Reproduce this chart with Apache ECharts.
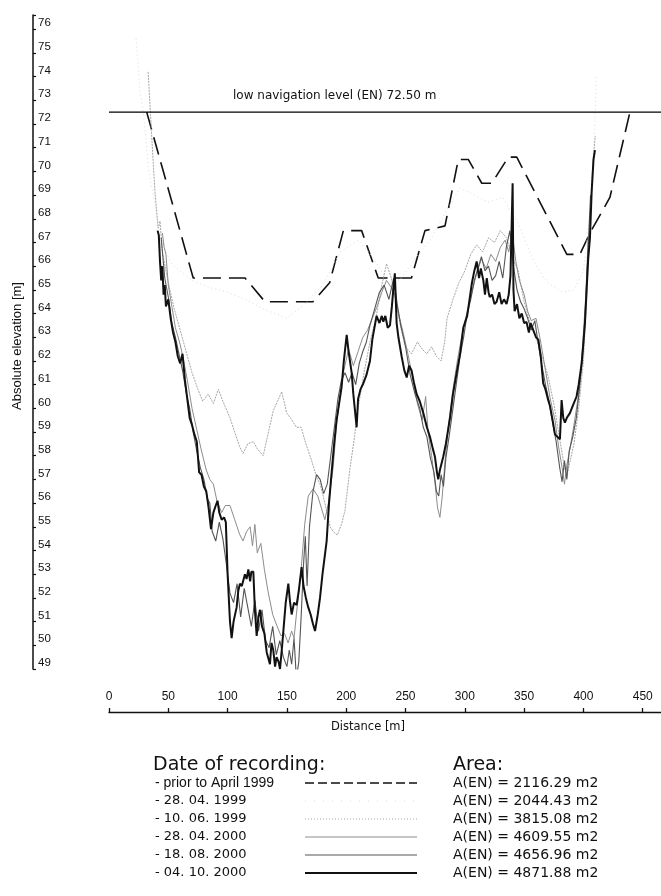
<!DOCTYPE html>
<html>
<head>
<meta charset="utf-8">
<script src="https://cdn.jsdelivr.net/npm/echarts/dist/echarts.min.js"></script>
<style>
html,body{margin:0;padding:0;background:#fff;}
#chart{width:661px;height:896px;}
</style>
</head>
<body>
<div id="chart"></div>
<script>
// ---- data ----
const yTickMin = 49, yTickMax = 76;
const xTickValues = [0, 50, 100, 150, 200, 250, 300, 350, 400, 450];
const navLevel = 72.5;
const navLabel = 'low navigation level (EN) 72.50 m';
const xName = 'Distance [m]';
const yName = 'Absolute elevation [m]';
const legendTitle = 'Date of recording:';
const areaTitle = 'Area:';
const seriesNames = ['- prior to April 1999', '- 28. 04. 1999', '- 10. 06. 1999', '- 28. 04. 2000', '- 18. 08. 2000', '- 04. 10. 2000'];
const areaLabels = ['A(EN) = 2116.29 m2', 'A(EN) = 2044.43 m2', 'A(EN) = 3815.08 m2', 'A(EN) = 4609.55 m2', 'A(EN) = 4656.96 m2', 'A(EN) = 4871.88 m2'];

const priorApril1999 = [[31.8,72.5],[71,65.5],[114.7,65.5],[131.5,64.5],[172,64.5],[186,65.3],[197.6,67.5],[213,67.5],[227,65.5],[255,65.5],[266.4,67.5],[283.3,67.7],[294.5,70.5],[303,70.5],[314.3,69.5],[322.7,69.5],[336.7,70.6],[343.8,70.6],[386,66.5],[397,66.5],[405.5,67.4],[422.3,68.9],[439.2,72.5]];

const rec19990428 = [[22.8,75.6],[24.5,74.6],[26,73.4],[28.7,72.6],[31,71.4],[33,70.3],[35,69.6],[37,69.1],[40,68.3],[44,67.3],[48,66.6],[53,66.1],[60,65.8],[70,65.4],[85,65.1],[100,64.9],[115,64.6],[130,64.2],[150,63.8],[165,64.4],[180,65.2],[195,66.6],[210,67.1],[222,66.4],[232,65.6],[245,65.4],[258,66.3],[272,67.2],[285,68.4],[296,69.3],[308,69.0],[320,68.7],[332,68.9],[345,67.8],[358,66.2],[370,65.3],[382,64.9],[392,65.0],[400,65.8],[406,68.5],[409,71.2],[411,74.1]];

const rec19990610 = [[33,74.2],[35,72.4],[37,70.6],[38.8,69.1],[41.4,67.6],[43,67.9],[45,66.6],[50,65.3],[55,64.2],[60,63.3],[65,62.4],[70,61.5],[75,60.8],[79,60.3],[83.7,60.6],[88,60.2],[92.2,60.8],[96,60.3],[102,59.6],[106,59.0],[110,58.4],[113,58.1],[117,58.5],[121.7,58.6],[125,58.3],[130,58.0],[134,58.9],[138.5,59.9],[142,60.3],[145.6,60.7],[148,60.2],[149.8,59.8],[153,59.6],[158,59.2],[162,59.2],[166,58.5],[170.8,57.8],[175,57.1],[178,56.8],[182,56.0],[186.4,55.0],[189,54.8],[192.5,54.65],[196,55.1],[199,55.7],[203,57.4],[207,58.8],[210,60.0],[215,61.5],[220,62.8],[225,63.8],[230,65.2],[234,66.1],[238,65.5],[242,64.5],[246,63.4],[250,62.6],[255,62.3],[260,62.8],[264,62.5],[268,62.3],[272,62.6],[276,62.2],[280,62.0],[283,62.8],[285,63.8],[290,64.6],[295,65.3],[300,65.8],[305,66.5],[310,66.9],[315,66.6],[320,67.2],[325,67.0],[330,67.5],[335,67.2],[340,66.4],[345,65.8],[350,64.5],[355,63.6],[360,63.0],[365,62.2],[370,61.4],[375,60.2],[378,59.3],[381,58.4],[384,57.5],[386,57.1],[388,57.6],[392,58.5],[396,60.0],[400,62.0],[403,65.0],[406,68.5],[408,70.4],[410,71.5]];

const rec20000428 = [[45,67.4],[46.5,66.8],[48,66.5],[50,65.2],[53,64.3],[56,63.4],[60,62.7],[63,62.0],[66,61.2],[70,60.0],[74,59.1],[78,58.2],[82,57.4],[85,57.0],[88,56.8],[91,56.1],[95,55.6],[98,55.9],[102,55.9],[106,55.3],[110,54.7],[113,54.4],[116,54.8],[119,55.0],[121,54.2],[123,55.1],[125,53.9],[128,54.3],[131,53.2],[134,52.3],[138,51.3],[141,50.9],[145,50.4],[148,50.5],[151,50.1],[154,50.6],[156,50.3],[158,51.3],[162,53.2],[165,55.1],[168,56.3],[172,56.6],[176,56.3],[179,55.8],[182,55.3],[185,56.0],[189,57.5],[192,59.4],[195,60.6],[198,61.6],[202,62.5],[206,61.8],[210,62.4],[214,63.0],[218,63.3],[222,63.8],[226,64.3],[230,64.9],[234,65.4],[238,65.1],[241,64.8],[244,64.0],[248,63.2],[252,62.3],[256,61.3],[260,60.2],[264,59.5],[267,60.5],[269,59.0],[272,58.0],[275,56.8],[277,55.8],[279,55.4],[281,56.3],[283,57.6],[286,59.2],[290,60.8],[294,62.1],[298,63.2],[302,64.1],[306,64.9],[310,65.7],[314,66.3],[318,65.9],[322,66.5],[326,66.2],[330,66.8],[334,67.1],[337,66.6],[340,67.4],[343,66.2],[346,65.4],[350,64.8],[353,64.1],[356,63.7],[360,63.8],[364,62.8],[368,61.6],[372,60.4],[376,59.5],[379,58.4],[382,57.5],[384,56.8],[386,57.6],[389,58.4],[392,59.3],[396,60.6],[399,62.4],[402,64.8],[404,67.2]];

const rec20000818 = [[44,67.2],[47,65.5],[50,64.7],[53,63.6],[56,63.0],[59,62.3],[62,61.6],[65,60.7],[68,60.0],[71,59.0],[74,58.2],[77,57.5],[80,57.0],[83,56.2],[85,56.0],[87,54.8],[90,54.4],[93,55.2],[96,54.5],[99,53.4],[102,52.2],[105,51.8],[108,52.6],[111,51.2],[114,52.4],[117,51.6],[120,50.8],[123,51.9],[126,50.6],[129,51.5],[132,50.2],[135,49.9],[138,50.8],[141,49.6],[144,50.2],[147,49.5],[150,49.1],[152,49.8],[154,49.2],[156,50.3],[158,48.6],[160,49.3],[162,51.2],[164,53.4],[165.5,54.6],[167,52.5],[169,55.0],[172,56.5],[175,57.2],[178,57.0],[181,56.4],[184,56.8],[187,58.0],[190,59.2],[193,60.4],[196,61.2],[199,61.5],[202,61.1],[205,61.5],[208,61.0],[211,61.9],[214,62.4],[217,62.8],[220,63.5],[224,64.2],[228,64.9],[232,65.2],[236,64.6],[240,65.5],[243,64.4],[246,63.5],[250,62.6],[254,61.4],[258,60.6],[262,60.0],[265,59.2],[268,58.8],[271,57.9],[274,57.3],[276,56.5],[278,56.3],[280,57.2],[282,56.7],[284,57.9],[287,58.9],[290,60.0],[293,61.1],[296,62.2],[299,63.0],[302,64.0],[305,64.6],[308,65.4],[311,65.9],[314,66.4],[317,65.8],[320,66.0],[323,65.4],[326,65.6],[329,66.2],[332,65.5],[335,66.8],[338,67.5],[341,66.0],[344,65.0],[347,64.5],[350,64.2],[353,63.8],[356,63.3],[359,63.7],[362,62.7],[365,61.8],[368,61.0],[371,60.3],[374,59.4],[377,58.6],[380,57.5],[382,56.9],[384,57.8],[386,57.0],[388,58.2],[391,58.8],[394,59.6],[397,61.0],[400,62.6],[402,64.5],[404,66.8],[406,69.0]];

const rec20001004 = [[41,67.5],[42,67.3],[43,66.2],[44,65.4],[45,66.0],[46,64.8],[47,65.2],[48,64.3],[50,64.6],[52,63.8],[54,63.2],[56,62.8],[58,62.2],[60,61.9],[62,62.3],[64,61.2],[66,60.4],[68,59.6],[70,59.3],[72,58.9],[74,58.6],[76,57.3],[78,57.2],[80,56.7],[82,56.5],[84,55.8],[86,54.9],[88,55.6],[90,55.9],[91.5,56.1],[93,55.6],[95,55.3],[97,55.4],[98.5,55.2],[100,53.0],[102,51.0],[103.4,50.3],[105,51.0],[107.6,51.6],[109,52.3],[110.4,52.6],[112,52.5],[114.6,53.0],[116,52.8],[117.5,53.2],[119,52.7],[120,53.1],[121.7,53.1],[123,51.5],[124.5,50.4],[126,51.2],[127.3,51.5],[129,50.8],[131,50.5],[133,49.7],[135.7,49.2],[137,50.1],[138.5,49.8],[140,49.1],[141.3,49.5],[143,49.3],[144.2,49.0],[146,50.0],[147,50.6],[149,51.8],[151.2,52.6],[152.5,51.9],[154,51.3],[156,51.8],[158.2,51.7],[160,52.3],[162.4,53.3],[164,52.5],[166,52.0],[168,51.6],[170,51.3],[172,50.9],[173.7,50.6],[176,51.3],[177.9,52.0],[180,53.0],[183.5,54.4],[185.5,56.0],[187.7,57.3],[190,58.6],[191.9,59.5],[194,60.2],[196.1,60.9],[198,62.0],[200.4,63.1],[202,62.4],[204.6,61.5],[206,60.6],[208.8,59.2],[210,60.4],[212,60.8],[214.4,61.05],[217,61.4],[220,62.0],[222,62.9],[225.6,63.9],[228,63.6],[230,63.9],[231.3,63.66],[233,63.9],[235,63.4],[236.9,63.5],[238.5,64.3],[240,65.2],[241,65.7],[242.5,63.6],[244,63.0],[246.7,62.2],[249,61.6],[251,61.3],[253,61.8],[255.1,61.6],[257,61.1],[259.4,60.6],[262,60.3],[265,59.8],[268,59.2],[270.6,58.8],[273,58.3],[274.8,57.96],[276.5,57.3],[277.6,57.0],[279,57.4],[281.8,57.96],[284,58.5],[287.5,59.6],[290,60.6],[293.1,61.5],[296,62.3],[298.7,63.4],[300,63.6],[302,63.9],[304.3,64.7],[306,65.3],[308,65.8],[310,66.2],[312,65.5],[313.5,65.9],[315.6,65.4],[317,64.8],[318.5,65.5],[320,64.9],[321,64.7],[323,64.8],[325,64.4],[326.8,64.5],[329,64.9],[331,64.4],[333,64.6],[335.2,64.4],[337,64.8],[338.5,65.6],[340.3,69.5],[341,65.0],[342,64.1],[344,64.4],[346,63.8],[348,64.0],[350,63.6],[352,63.65],[354,63.2],[355.5,63.6],[357.7,63.3],[360,63.0],[362,62.9],[364,62.2],[366.1,61.05],[368,60.8],[370,60.4],[371.8,60.1],[374,59.5],[376,58.9],[378,58.8],[380.2,58.7],[381.6,60.35],[383,59.6],[384.4,59.4],[386,59.6],[388.6,59.8],[391,60.1],[394.2,60.5],[396,61.0],[398.5,61.9],[400,62.8],[401.3,63.6],[402.7,65.0],[404,66.3],[405.5,67.2],[406.9,69.1],[408.5,70.5],[409.7,70.9]];

// ---- chart ----
const chart = echarts.init(document.getElementById('chart'), null, {renderer: 'canvas'});

const styles = [
  {color: '#111', width: 1.6, type: [18, 8]},
  {color: '#dcdcdc', width: 1, type: [1, 3]},
  {color: '#a6a6a6', width: 1, type: [2, 1]},
  {color: '#8c8c8c', width: 1, type: 'solid'},
  {color: '#555', width: 1.1, type: 'solid'},
  {color: '#111', width: 2, type: 'solid'}
];
const dataSets = [priorApril1999, rec19990428, rec19990610, rec20000428, rec20000818, rec20001004];
const legendDash = [[9, 4], [1, 8], [1, 2], null, null, null];

const series = dataSets.map((d, i) => ({
  type: 'line', name: seriesNames[i], data: d, symbol: 'none', smooth: false,
  lineStyle: {color: styles[i].color, width: styles[i].width, type: styles[i].type},
  z: 2 + i, silent: true
}));
series.unshift({
  type: 'line', name: 'nav', data: [[0, navLevel], [465.4, navLevel]], symbol: 'none',
  lineStyle: {color: '#000', width: 1.2}, z: 10, silent: true
});

const graphic = [];
graphic.push({type: 'text', left: 233, top: 90, style: {text: navLabel, font: '12px "DejaVu Sans"', fill: '#111'}});
graphic.push({type: 'text', x: 17, y: 346, rotation: Math.PI / 2,
  style: {text: yName, font: '13px "Liberation Sans"', fill: '#111', textAlign: 'center', textVerticalAlign: 'middle'}});
graphic.push({type: 'text', x: 368, y: 727,
  style: {text: xName, font: '11.5px "DejaVu Sans"', fill: '#111', textAlign: 'center', textVerticalAlign: 'middle'}});
graphic.push({type: 'text', x: 153, y: 765,
  style: {text: legendTitle, font: '19px "DejaVu Sans"', fill: '#111', textAlign: 'left', textVerticalAlign: 'middle'}});
graphic.push({type: 'text', x: 453, y: 765,
  style: {text: areaTitle, font: '19px "DejaVu Sans"', fill: '#111', textAlign: 'left', textVerticalAlign: 'middle'}});
const rowY = [783, 801, 819, 837, 855, 873];
seriesNames.forEach((nm, i) => {
  graphic.push({type: 'text', x: 155, y: rowY[i],
    style: {text: nm, font: i === 0 ? '14px "Liberation Sans"' : '13px "DejaVu Sans"', fill: '#111', textAlign: 'left', textVerticalAlign: 'middle'}});
  graphic.push({type: 'line', shape: {x1: 305, y1: rowY[i], x2: 417, y2: rowY[i]},
    style: {stroke: styles[i].color, lineWidth: i === 0 ? 1.5 : styles[i].width, lineDash: legendDash[i]}});
  graphic.push({type: 'text', x: 453, y: rowY[i],
    style: {text: areaLabels[i], font: '14px "DejaVu Sans"', fill: '#111', textAlign: 'left', textVerticalAlign: 'middle'}});
});

chart.setOption({
  animation: false,
  backgroundColor: '#fff',
  grid: {left: 109, right: 0, top: 15, bottom: 227, containLabel: false},
  xAxis: {
    type: 'value', min: 0, max: 465.4, interval: 50, offset: 43,
    axisLine: {show: true, onZero: false, lineStyle: {color: '#111', width: 1.3}},
    axisTick: {show: true, inside: true, length: 4, lineStyle: {color: '#111', width: 1.3}},
    axisLabel: {inside: true, margin: 9, color: '#111', fontSize: 12, fontFamily: 'Liberation Sans',
      showMaxLabel: false,
      formatter: v => (xTickValues.indexOf(v) >= 0 ? String(v) : '')},
    splitLine: {show: false}
  },
  yAxis: {
    type: 'value', min: yTickMin, max: 76.6, interval: 1, offset: 76,
    axisLine: {show: true, onZero: false, lineStyle: {color: '#111', width: 1.5}},
    axisTick: {show: true, inside: true, length: 3, lineStyle: {color: '#111', width: 1.2}},
    axisLabel: {inside: true, margin: 5, color: '#111', fontSize: 11.5, fontFamily: 'Liberation Sans',
      verticalAlign: 'bottom', align: 'left',
      formatter: v => (Number.isInteger(v) && v >= yTickMin && v <= yTickMax ? String(v) : '')},
    splitLine: {show: false}
  },
  series: series,
  graphic: graphic
});
</script>
</body>
</html>
